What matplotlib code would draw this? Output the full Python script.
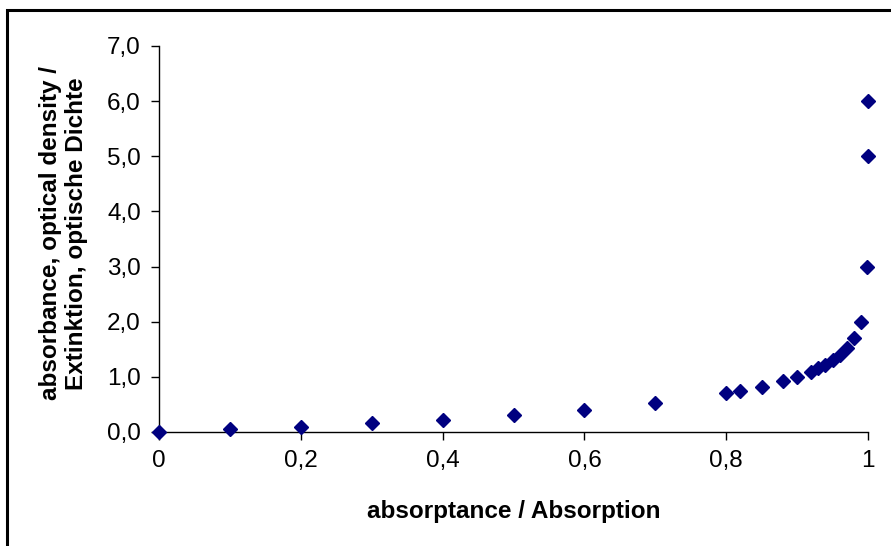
import matplotlib.pyplot as plt
from matplotlib.patches import Rectangle
from matplotlib.ticker import MultipleLocator, FuncFormatter

plt.rcParams['font.family'] = ['Liberation Sans', 'DejaVu Sans']

# absorptance (fraction of light absorbed) vs absorbance
absorptance = [0, 0.1, 0.2, 0.3, 0.4, 0.5, 0.6, 0.7, 0.8, 0.82, 0.85, 0.88,
               0.9, 0.92, 0.93, 0.94, 0.95, 0.96, 0.97, 0.98, 0.99,
               0.999, 0.99999, 0.999999]
absorbance = [0, 0.046, 0.097, 0.155, 0.222, 0.301, 0.398, 0.523, 0.699, 0.745,
              0.824, 0.921, 1.0, 1.097, 1.155, 1.222, 1.301, 1.398, 1.523,
              1.699, 2.0, 3.0, 5.0, 6.0]

x_label = 'absorptance / Absorption'
y_label = 'absorbance, optical density /\nExtinktion, optische Dichte'

fig = plt.figure(figsize=(8.91, 5.46), dpi=100)
ax = fig.add_axes([0.1785, 0.2088, 0.7957, 0.707])

# chart area frame (runs off the right and bottom edge)
fig.patches.append(Rectangle((7 / 891, -0.05), 1.2, 1 - 10 / 546 + 0.05,
                             transform=fig.transFigure, fill=False,
                             edgecolor='black', linewidth=2.2, zorder=0))

ax.plot(absorptance, absorbance, linestyle='none', marker='D',
        markersize=7, color='#000080', clip_on=False, zorder=3)

ax.set_xlim(0, 1)
ax.set_ylim(0, 7)
ax.xaxis.set_major_locator(MultipleLocator(0.2))
ax.yaxis.set_major_locator(MultipleLocator(1))

def comma(v, digits):
    return f'{v:.{digits}f}'.replace('.', ',')

ax.xaxis.set_major_formatter(FuncFormatter(
    lambda v, p: '0' if abs(v) < 1e-9 else ('1' if abs(v - 1) < 1e-9 else comma(v, 1))))
ax.yaxis.set_major_formatter(FuncFormatter(lambda v, p: comma(v, 1)))

ax.spines['top'].set_visible(False)
ax.spines['right'].set_visible(False)
for s in ('left', 'bottom'):
    ax.spines[s].set_linewidth(1.0)
    ax.spines[s].set_color('black')

ax.tick_params(axis='both', direction='out', length=6, width=1.0,
               labelsize=17.5, colors='black')
ax.tick_params(axis='x', pad=7)
ax.tick_params(axis='y', pad=7)

ax.set_xlabel(x_label, fontsize=17.5, fontweight='bold')
ax.set_ylabel(y_label, fontsize=17.5, fontweight='bold',
              multialignment='center', va='center', ha='center')
ax.xaxis.set_label_coords(0.5, -0.205)
ax.xaxis.label.set_va('center')
ax.yaxis.set_label_coords(-0.135, 0.515)

fig.savefig('out.png', dpi=100)
